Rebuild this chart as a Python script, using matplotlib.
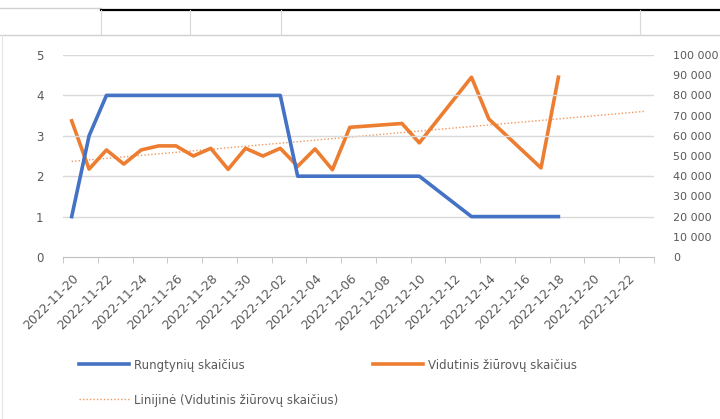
import matplotlib
matplotlib.use("Agg")
import matplotlib.pyplot as plt
import matplotlib.dates as mdates
from matplotlib.lines import Line2D
import numpy as np
import datetime as dt

# match days (Excel date axis, missing days are just skipped)
dates = ["2022-11-20", "2022-11-21", "2022-11-22", "2022-11-23", "2022-11-24",
         "2022-11-25", "2022-11-26", "2022-11-27", "2022-11-28", "2022-11-29",
         "2022-11-30", "2022-12-01", "2022-12-02", "2022-12-03", "2022-12-04",
         "2022-12-05", "2022-12-06", "2022-12-09", "2022-12-10", "2022-12-13",
         "2022-12-14", "2022-12-17", "2022-12-18"]

# Rungtynių skaičius (left axis)
matches = [1, 3, 4, 4, 4, 4, 4, 4, 4, 4, 4, 4, 4, 2, 2, 2, 2, 2, 2, 1, 1, 1, 1]

# Vidutinis žiūrovų skaičius (right axis)
attendance = [67400, 43500, 53000, 46000, 53000, 55000, 55000, 50000, 53800, 43400,
              53800, 50000, 53800, 44900, 53500, 43200, 64200, 66100, 56500, 89000,
              68300, 44100, 89000]

left_ticks = [0, 1, 2, 3, 4, 5]
right_ticks = [0, 10000, 20000, 30000, 40000, 50000, 60000, 70000, 80000, 90000, 100000]

blue = "#4472C4"
orange = "#ED7D31"
txt = "#595959"
grid = "#D9D9D9"

plt.rcParams["font.family"] = ["DejaVu Sans"]

W, H = 720, 419
fig = plt.figure(figsize=(W / 100, H / 100), dpi=100)


def px(x, y):
    return x / W, 1 - y / H


# spreadsheet cells visible above the chart
fig.add_artist(Line2D([0, 101 / W], [px(0, 8.5)[1]] * 2, color="#D0D0D0", lw=1))
fig.add_artist(Line2D([101 / W, 1], [px(0, 10)[1]] * 2, color="black", lw=1.6))
fig.add_artist(Line2D([0, 1], [px(0, 35)[1]] * 2, color="#D0D0D0", lw=1))
for xv in [101, 190, 281, 640]:
    fig.add_artist(Line2D([xv / W] * 2, [px(0, 10)[1], px(0, 35)[1]], color="#D8D8D8", lw=0.8))
fig.add_artist(Line2D([1.5 / W] * 2, [px(0, 35)[1], 0], color="#E4E4E4", lw=0.8))

ax = fig.add_axes([63 / W, 1 - 257 / H, 591 / W, 202 / H])
ax2 = ax.twinx()

d = [mdates.date2num(dt.datetime.strptime(s, "%Y-%m-%d")) for s in dates]
start = d[0] - 0.5
end = start + 34

ax.set_ylim(0, 5)
ax2.set_ylim(0, 100000)
ax.set_xlim(start, end)

for v in left_ticks[1:]:
    ax.axhline(v, color=grid, lw=1, zorder=0)

# trend line over the whole date range
coef = np.polyfit(d, attendance, 1)
tx = np.array([d[0], end - 0.5])
ax2.plot(tx, np.polyval(coef, tx), color=orange, lw=1, ls=(0, (1, 1.5)), alpha=0.8, zorder=1)

ax2.plot(d, attendance, color=orange, lw=2.6, zorder=2, solid_joinstyle="round")
ax.plot(d, matches, color=blue, lw=2.6, zorder=3, solid_joinstyle="round")
ax.set_zorder(ax2.get_zorder() + 1)
ax.patch.set_visible(False)

for a in (ax, ax2):
    for s in a.spines.values():
        s.set_visible(False)
ax.spines["bottom"].set_visible(True)
ax.spines["bottom"].set_color("#BFBFBF")

ax.set_yticks(left_ticks)
ax.set_yticklabels([str(v) for v in left_ticks])
ax2.set_yticks(right_ticks)
ax2.set_yticklabels([f"{v:,}".replace(",", " ") for v in right_ticks])
ax.tick_params(axis="y", length=0, pad=14, labelsize=8.5, labelcolor=txt)
ax2.tick_params(axis="y", length=0, pad=14, labelsize=8, labelcolor=txt)

# labels every two days, tick marks between the day slots
label_pos = [d[0] + 2 * k for k in range(17)]
label_txt = [mdates.num2date(v).strftime("%Y-%m-%d") for v in label_pos]
ax.set_xticks(label_pos)
ax.set_xticklabels(label_txt, rotation=45, ha="right", va="top", rotation_mode="anchor")
ax.set_xticks([start + 2 * k for k in range(18)], minor=True)
ax.tick_params(axis="x", which="major", length=0, pad=11, labelsize=9, labelcolor=txt)
ax.tick_params(axis="x", which="minor", length=4, color="#BFBFBF", direction="out")

handles = [Line2D([], [], color=blue, lw=2.6),
           Line2D([], [], color=orange, lw=2.6),
           Line2D([], [], color=orange, lw=1, ls=(0, (1, 1.5)), alpha=0.8)]
names = ["Rungtynių skaičius", "Vidutinis žiūrovų skaičius",
         "Linijinė (Vidutinis žiūrovų skaičius)"]
fs = 8.5
em = fs * 100 / 72
leg = fig.legend(handles[:2], names[:2], loc="center left", bbox_to_anchor=px(79, 365),
                 ncol=2, frameon=False, fontsize=fs, handlelength=50 / em,
                 handletextpad=5 / em, columnspacing=128 / em,
                 borderaxespad=0, borderpad=0)
for t in leg.get_texts():
    t.set_color(txt)
leg2 = fig.legend(handles[2:], names[2:], loc="center left", bbox_to_anchor=px(79, 400),
                  frameon=False, fontsize=fs, handlelength=50 / em, handletextpad=5 / em,
                  borderaxespad=0, borderpad=0)
for t in leg2.get_texts():
    t.set_color(txt)

fig.savefig("out.png", dpi=100)
